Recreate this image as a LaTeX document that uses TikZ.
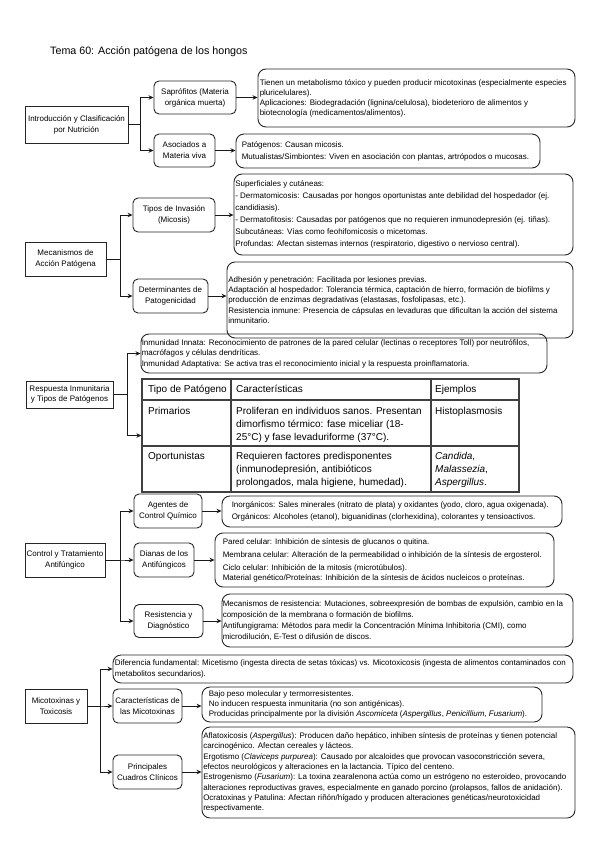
\documentclass[tikz,border=0pt]{standalone}
\usepackage{fontspec}
\setmainfont{Liberation Sans}
\usetikzlibrary{arrows.meta}
\tikzset{
  rootbox/.style={draw=black!85, line width=0.9pt, align=center, inner sep=1pt, font=\fontsize{8}{11}\selectfont},
  subbox/.style={rootbox, rounded corners=5pt},
  infobox/.style={draw=black!85, line width=0.9pt, rounded corners=8pt, inner sep=0pt},
  infotext/.style={anchor=west, align=left, inner sep=0pt, font=\fontsize{8}{#1}\selectfont},
  conn/.style={draw=black!90, line width=0.9pt, -{Stealth[length=5pt,width=4.5pt]}},
  cell/.style={anchor=north west, align=left, inner sep=0pt, font=\fontsize{10}{12.8}\selectfont},
  tblline/.style={draw=black!75, line width=1.2pt},
}
\begin{document}
\begin{tikzpicture}[x=1pt,y=-1pt]
\useasboundingbox (0,0) rectangle (599,848);

\node[anchor=west, inner sep=0pt, font=\fontsize{10.7}{13}\selectfont] (title) at (50,52) {Tema 60: Acción patógena de los hongos};

% ---------- Section 1
\node[rootbox, minimum width=103, minimum height=37] (intro) at (76.5,124.5) {Introducción y Clasificación\\por Nutrición};
\node[subbox, minimum width=82, minimum height=33] (sap) at (195,97.5) {Saprófitos (Materia\\orgánica muerta)};
\node[subbox, minimum width=61, minimum height=33] (aso) at (184.5,150.5) {Asociados a\\Materia viva};
\node[infobox, minimum width=317, minimum height=58] (t1) at (416.5,98) {};
\node[infotext=10] (t1x) at ([xshift=2pt]t1.west) {Tienen un metabolismo tóxico y pueden producir micotoxinas (especialmente especies\\pluricelulares).\\Aplicaciones: Biodegradación (lignina/celulosa), biodeterioro de alimentos y\\biotecnología (medicamentos/alimentos).};
\node[infobox, minimum width=304, minimum height=34] (t2) at (388,151) {};
\node[infotext=12] (t2x) at ([xshift=6pt]t2.west) {Patógenos: Causan micosis.\\Mutualistas/Simbiontes: Viven en asociación con plantas, artrópodos o mucosas.};
\draw[conn] (intro.east) -- ++(12,0) |- (sap.west);
\draw[conn] (intro.east) -- ++(12,0) |- (aso.west);
\draw[conn] (sap.east) -- (sap.east -| t1.west);
\draw[conn] (aso.east) -- (aso.east -| t2.west);

% ---------- Section 2
\node[rootbox, minimum width=81, minimum height=34] (meca) at (65.5,259) {Mecanismos de\\Acción Patógena};
\node[subbox, minimum width=82, minimum height=34] (tipos) at (174,215) {Tipos de Invasión\\(Micosis)};
\node[subbox, minimum width=75, minimum height=34] (det) at (170.5,296) {Determinantes de\\Patogenicidad};
\node[infobox, minimum width=339, minimum height=81] (t3) at (403.5,214.5) {};
\node[infotext=12] (t3x) at ([xshift=1.5pt]t3.west) {Superficiales y cutáneas:\\- Dermatomicosis: Causadas por hongos oportunistas ante debilidad del hospedador (ej.\\candidiasis).\\- Dermatofitosis: Causadas por patógenos que no requieren inmunodepresión (ej. tiñas).\\Subcutáneas: Vías como feohifomicosis o micetomas.\\Profundas: Afectan sistemas internos (respiratorio, digestivo o nervioso central).};
\node[infobox, minimum width=346, minimum height=76] (t4) at (400,300) {};
\node[infotext=10.3] (t4x) at ([xshift=1.5pt]t4.west) {Adhesión y penetración: Facilitada por lesiones previas.\\Adaptación al hospedador: Tolerancia térmica, captación de hierro, formación de biofilms y\\producción de enzimas degradativas (elastasas, fosfolipasas, etc.).\\Resistencia inmune: Presencia de cápsulas en levaduras que dificultan la acción del sistema\\inmunitario.};
\draw[conn] (meca.east) -- ++(14,0) |- (tipos.west);
\draw[conn] (meca.east) -- ++(14,0) |- (det.west);
\draw[conn] (tipos.east) -- (tipos.east -| t3.west);
\draw[conn] (det.east) -- (det.east -| t4.west);

% ---------- Section 3
\node[rootbox, minimum width=87, minimum height=27, font=\fontsize{8}{10}\selectfont] (resp) at (69.5,394.5) {Respuesta Inmunitaria\\y Tipos de Patógenos};
\node[infobox, minimum width=406, minimum height=39] (t5) at (344,353.5) {};
\node[infotext=10.5] (t5x) at ([xshift=1pt]t5.west) {Inmunidad Innata: Reconocimiento de patrones de la pared celular (lectinas o receptores Toll) por neutrófilos,\\macrófagos y células dendríticas.\\Inmunidad Adaptativa: Se activa tras el reconocimiento inicial y la respuesta proinflamatoria.};
\node[tblline, inner sep=0pt, minimum width=377, minimum height=113] (tbl) at (330.5,435.5) {};
\draw[tblline] (231,379) -- (231,492);
\draw[tblline] (431,379) -- (431,492);
\draw[tblline] (142,400) -- (519,400);
\draw[tblline] (142,446) -- (519,446);
\node[cell] (h1) at (148,385.3) {Tipo de Patógeno};
\node[cell] (h2) at (236,385.3) {Características};
\node[cell] (h3) at (435,385.3) {Ejemplos};
\node[cell] (r1a) at (148,407.3) {Primarios};
\node[cell] (r1b) at (236,407.3) {Proliferan en individuos sanos. Presentan\\dimorfismo térmico: fase miceliar (18-\\25°C) y fase levaduriforme (37°C).};
\node[cell] (r1c) at (435,407.3) {Histoplasmosis};
\node[cell] (r2a) at (148,452.3) {Oportunistas};
\node[cell] (r2b) at (236,452.3) {Requieren factores predisponentes\\(inmunodepresión, antibióticos\\prolongados, mala higiene, humedad).};
\node[cell] (r2c) at (435,452.3) {\textit{Candida},\\\textit{Malassezia},\\\textit{Aspergillus}.};
\draw[conn] (resp.east) -- ++(14,0) |- (t5.west);
\draw[conn] (resp.east) -- ++(14,0) |- (tbl.west);

% ---------- Section 4
\node[rootbox, minimum width=80, minimum height=34] (ctrl) at (65,560) {Control y Tratamiento\\Antifúngico};
\node[subbox, minimum width=68, minimum height=34] (agen) at (168,511) {Agentes de\\Control Químico};
\node[subbox, minimum width=60, minimum height=34] (dian) at (164,560) {Dianas de los\\Antifúngicos};
\node[subbox, minimum width=69, minimum height=33] (resi) at (168.5,621) {Resistencia y\\Diagnóstico};
\node[infobox, minimum width=340, minimum height=31] (t6) at (392,511.5) {};
\node[infotext=12] (t6x) at ([xshift=10pt]t6.west) {Inorgánicos: Sales minerales (nitrato de plata) y oxidantes (yodo, cloro, agua oxigenada).\\Orgánicos: Alcoholes (etanol), biguanidinas (clorhexidina), colorantes y tensioactivos.};
\node[infobox, minimum width=339, minimum height=54] (t7) at (384.5,560) {};
\node[infotext=10] (t7x) at ([xshift=8pt]t7.west) {Pared celular: Inhibición de síntesis de glucanos o quitina.\\[3pt]Membrana celular: Alteración de la permeabilidad o inhibición de la síntesis de ergosterol.\\[3pt]Ciclo celular: Inhibición de la mitosis (microtúbulos).\\Material genético/Proteínas: Inhibición de la síntesis de ácidos nucleicos o proteínas.};
\node[infobox, minimum width=351, minimum height=53] (t8) at (397.5,620.5) {};
\node[infotext=11] (t8x) at ([xshift=1pt]t8.west) {Mecanismos de resistencia: Mutaciones, sobreexpresión de bombas de expulsión, cambio en la\\composición de la membrana o formación de biofilms.\\Antifungigrama: Métodos para medir la Concentración Mínima Inhibitoria (CMI), como\\microdilución, E-Test o difusión de discos.};
\draw[conn] (ctrl.east) -- ++(15,0) |- (agen.west);
\draw[conn] (ctrl.east) -- ++(15,0) |- (dian.west);
\draw[conn] (ctrl.east) -- ++(15,0) |- (resi.west);
\draw[conn] (agen.east) -- (agen.east -| t6.west);
\draw[conn] (dian.east) -- (dian.east -| t7.west);
\draw[conn] (resi.east) -- (resi.east -| t8.west);

% ---------- Section 5
\node[rootbox, minimum width=62, minimum height=34] (mico) at (56,706) {Micotoxinas y\\Toxicosis};
\node[infobox, minimum width=460, minimum height=28] (t9) at (343,669) {};
\node[infotext=11] (t9x) at ([xshift=2pt]t9.west) {Diferencia fundamental: Micetismo (ingesta directa de setas tóxicas) vs. Micotoxicosis (ingesta de alimentos contaminados con\\metabolitos secundarios).};
\node[subbox, minimum width=69, minimum height=34] (carac) at (147.5,706) {Características de\\las Micotoxinas};
\node[subbox, minimum width=69, minimum height=34] (prin) at (147.5,772) {Principales\\Cuadros Clínicos};
\node[infobox, minimum width=340, minimum height=35] (t10) at (372,704.5) {};
\node[infotext=10] (t10x) at ([xshift=7pt]t10.west) {Bajo peso molecular y termorresistentes.\\No inducen respuesta inmunitaria (no son antigénicas).\\Producidas principalmente por la división \textit{Ascomiceta} (\textit{Aspergillus}, \textit{Penicillium}, \textit{Fusarium}).};
\node[infobox, minimum width=373, minimum height=91] (t11) at (388.5,772.5) {};
\node[infotext=10.3] (t11x) at ([xshift=1.5pt]t11.west) {Aflatoxicosis (\textit{Aspergillus}): Producen daño hepático, inhiben síntesis de proteínas y tienen potencial\\carcinogénico. Afectan cereales y lácteos.\\Ergotismo (\textit{Claviceps purpurea}): Causado por alcaloides que provocan vasoconstricción severa,\\efectos neurológicos y alteraciones en la lactancia. Típico del centeno.\\Estrogenismo (\textit{Fusarium}): La toxina zearalenona actúa como un estrógeno no esteroideo, provocando\\alteraciones reproductivas graves, especialmente en ganado porcino (prolapsos, fallos de anidación).\\Ocratoxinas y Patulina: Afectan riñón/hígado y producen alteraciones genéticas/neurotoxicidad\\respectivamente.};
\draw[conn] (mico.east) -- ++(13,0) |- (t9.west);
\draw[conn] (mico.east) -- ++(13,0) |- (carac.west);
\draw[conn] (mico.east) -- ++(13,0) |- (prin.west);
\draw[conn] (carac.east) -- (carac.east -| t10.west);
\draw[conn] (prin.east) -- (prin.east -| t11.west);
\end{tikzpicture}
\end{document}
